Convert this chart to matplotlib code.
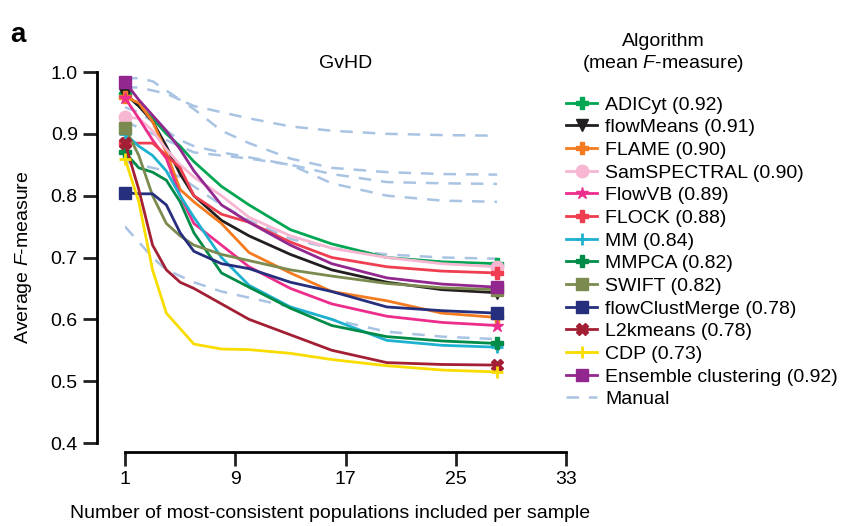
import numpy as np
import matplotlib.pyplot as plt

plt.rcParams['font.family'] = ['Liberation Sans', 'DejaVu Sans']
plt.rcParams['mathtext.fontset'] = 'custom'
plt.rcParams['mathtext.it'] = 'Liberation Sans:italic'
plt.rcParams['mathtext.rm'] = 'Liberation Sans'

# x positions (number of populations included per sample)
x = [1, 2, 3, 4, 5, 6, 8, 10, 13, 16, 20, 24, 28]

# algorithm names and mean F-measure (legend order)
names = ['ADICyt', 'flowMeans', 'FLAME', 'SamSPECTRAL', 'FlowVB', 'FLOCK', 'MM',
         'MMPCA', 'SWIFT', 'flowClustMerge', 'L2kmeans', 'CDP', 'Ensemble clustering']
mean_f = [0.92, 0.91, 0.90, 0.90, 0.89, 0.88, 0.84, 0.82, 0.82, 0.78, 0.78, 0.73, 0.92]

# average F-measure curves
adicyt = [0.965, 0.945, 0.925, 0.90, 0.88, 0.855, 0.815, 0.785, 0.745, 0.722, 0.70, 0.693, 0.69]
flowmeans = [0.965, 0.945, 0.92, 0.88, 0.835, 0.80, 0.76, 0.735, 0.705, 0.68, 0.66, 0.648, 0.643]
flame = [0.96, 0.95, 0.92, 0.87, 0.81, 0.79, 0.755, 0.708, 0.675, 0.645, 0.63, 0.61, 0.603]
samspectral = [0.927, 0.925, 0.905, 0.875, 0.85, 0.83, 0.80, 0.765, 0.735, 0.715, 0.70, 0.69, 0.685]
flowvb = [0.958, 0.925, 0.89, 0.86, 0.80, 0.755, 0.72, 0.685, 0.65, 0.625, 0.605, 0.595, 0.59]
flock = [0.885, 0.885, 0.885, 0.865, 0.845, 0.80, 0.77, 0.757, 0.725, 0.70, 0.685, 0.678, 0.675]
mm = [0.90, 0.88, 0.865, 0.84, 0.80, 0.765, 0.70, 0.655, 0.62, 0.60, 0.566, 0.558, 0.555]
mmpca = [0.87, 0.845, 0.838, 0.825, 0.79, 0.74, 0.675, 0.652, 0.618, 0.59, 0.572, 0.565, 0.561]
swift = [0.91, 0.865, 0.80, 0.755, 0.735, 0.72, 0.705, 0.695, 0.68, 0.67, 0.658, 0.651, 0.648]
flowclustmerge = [0.805, 0.803, 0.803, 0.785, 0.74, 0.71, 0.69, 0.682, 0.66, 0.645, 0.62, 0.614, 0.61]
l2kmeans = [0.885, 0.81, 0.72, 0.68, 0.66, 0.65, 0.625, 0.60, 0.575, 0.55, 0.53, 0.527, 0.526]
cdp = [0.86, 0.79, 0.68, 0.61, 0.585, 0.56, 0.552, 0.551, 0.545, 0.535, 0.525, 0.518, 0.515]
ensemble = [0.984, 0.955, 0.93, 0.905, 0.875, 0.84, 0.785, 0.757, 0.72, 0.69, 0.667, 0.657, 0.652]

# manual gating curves (dashed)
manual = [
    [0.99, 0.99, 0.985, 0.97, 0.955, 0.945, 0.935, 0.925, 0.912, 0.905, 0.90, 0.898, 0.897],
    [0.975, 0.975, 0.97, 0.965, 0.955, 0.94, 0.905, 0.885, 0.86, 0.845, 0.838, 0.835, 0.834],
    [0.943, 0.935, 0.92, 0.905, 0.89, 0.88, 0.87, 0.862, 0.85, 0.835, 0.822, 0.82, 0.819],
    [0.92, 0.91, 0.90, 0.89, 0.88, 0.87, 0.865, 0.86, 0.85, 0.82, 0.80, 0.792, 0.79],
    [0.855, 0.85, 0.845, 0.84, 0.83, 0.815, 0.785, 0.76, 0.73, 0.715, 0.705, 0.70, 0.698],
    [0.75, 0.725, 0.70, 0.68, 0.67, 0.66, 0.645, 0.635, 0.62, 0.60, 0.58, 0.572, 0.568],
]

series = [adicyt, flowmeans, flame, samspectral, flowvb, flock, mm,
          mmpca, swift, flowclustmerge, l2kmeans, cdp, ensemble]
colors = ['#00a651', '#231f20', '#f47b20', '#f7b6d2', '#ec2d8c', '#ee3e4f', '#1fb1d0',
          '#008c48', '#7b8b4f', '#262f7d', '#a31f34', '#f9dc00', '#92278f']
markers = ['P', 'v', 'P', 'o', '*', 'P', '+', 'P', 's', 's', 'X', '+', 's']
manual_color = '#a9c3e3'

fig = plt.figure(figsize=(8.5, 5.26), dpi=100)
ax = fig.add_axes([125 / 850, 83 / 526, 441 / 850, 371 / 526])

# manual lines under the algorithms
manual_handle = None
for m in manual:
    h, = ax.plot(x, m, linestyle='--', dashes=(5, 4), color=manual_color, lw=1.8, zorder=1)
    if manual_handle is None:
        manual_handle = h

handles = []
for y, c, mk in zip(series, colors, markers):
    h, = ax.plot(x, y, color=c, lw=2.0, marker=mk, markevery=[0, len(x) - 1],
                 ms=9, mew=2 if mk == '+' else 1, zorder=2, clip_on=False)
    handles.append(h)

labels = [f'{n} ({v:.2f})' for n, v in zip(names, mean_f)]
handles.append(manual_handle)
labels.append('Manual')

# axes styling: detached left/bottom spines
ax.set_xlim(1, 33)
ax.set_ylim(0.4, 1.0)
for s in ['top', 'right']:
    ax.spines[s].set_visible(False)
ax.spines['left'].set_position(('outward', 20))
ax.spines['bottom'].set_position(('outward', 6.5))
ax.spines['left'].set_bounds(0.4, 1.0)
ax.spines['bottom'].set_bounds(1, 33)
ax.spines['left'].set_linewidth(2)
ax.spines['bottom'].set_linewidth(2)
ax.set_xticks([1, 9, 17, 25, 33])
ax.set_yticks([0.4, 0.5, 0.6, 0.7, 0.8, 0.9, 1.0])
ax.set_yticklabels([f'{t:.1f}' for t in [0.4, 0.5, 0.6, 0.7, 0.8, 0.9, 1.0]])
ax.tick_params(width=2, length=10, labelsize=14, pad=4, color='#231f20')

ax.set_title('GvHD', fontsize=14, pad=2)
ax.set_ylabel('Average $F$-measure', fontsize=14, labelpad=12)
fig.text(330 / 850, 1 - 513 / 526, 'Number of most-consistent populations included per sample',
         ha='center', va='center', fontsize=14)

# legend with separate title text
fig.legend(handles, labels, loc='upper left', bbox_to_anchor=(566 / 850, 1 - 96 / 526),
           frameon=False, fontsize=14, handlelength=1.6, handletextpad=0.4,
           labelspacing=0.26, borderaxespad=0, borderpad=0)
fig.text(663 / 850, 1 - 41 / 526, 'Algorithm', ha='center', va='center', fontsize=14)
fig.text(663 / 850, 1 - 63 / 526, '(mean $F$-measure)', ha='center', va='center', fontsize=14)

fig.text(10 / 850, 1 - 35 / 526, 'a', fontsize=20, fontweight='bold', va='center')

plt.savefig('out.png', dpi=100)
